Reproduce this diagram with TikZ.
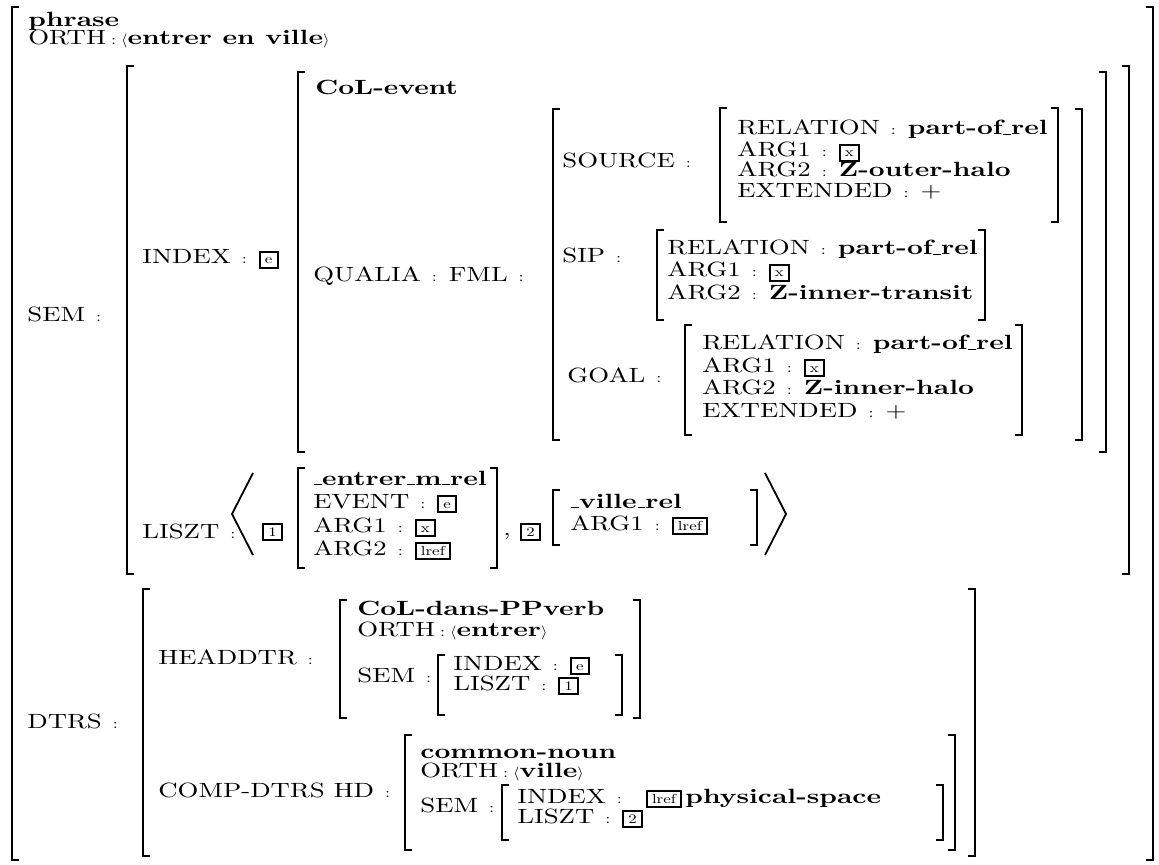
\documentclass[tikz,border=0pt]{standalone}
\usepackage{fontspec}
\setmainfont{lmroman10}[Extension=.otf, UprightFont=*-regular, BoldFont=*-bold,
  UprightFeatures={FakeStretch=1.3}, BoldFeatures={FakeStretch=1.34}]
\newcommand{\cl}{\hspace{5.5pt}{\scriptsize :}\hspace{6pt}}
\newcommand{\cls}{\hspace{2.5pt}{\scriptsize :}\hspace{2.5pt}}
\newcommand{\ang}[1]{$\scriptstyle\langle$#1$\scriptstyle\rangle$}
\newcommand{\us}{\kern.04em\rule{.36em}{0.6pt}\kern.02em}
\newcommand{\tg}[1]{{\setlength{\fboxsep}{0pt}\setlength{\fboxrule}{1pt}%
  \fbox{\rule[-1.6pt]{0pt}{7.2pt}\hspace{2pt}{\fontsize{6.5}{7}\selectfont #1}\hspace{2pt}}}}
% left x, right x, top y, bottom y
\newcommand{\avmbrk}[4]{%
  \draw[brk] ({#1+7},#3) -- (#1,#3) -- (#1,#4) -- ({#1+7},#4);
  \draw[brk] ({#2-7},#3) -- (#2,#3) -- (#2,#4) -- ({#2-7},#4);}
\begin{document}
\begin{tikzpicture}[x=0.5pt,y=-0.5pt,font=\fontsize{10.3}{11}\selectfont,
  brk/.style={line width=1.1pt},
  lbl/.style={anchor=base west,inner sep=0pt},
  typ/.style={lbl,font=\fontsize{10.3}{11}\selectfont\bfseries}]
\useasboundingbox (0,0) rectangle (1159,865);
% whole phrase
\avmbrk{12}{1153}{7}{860}
\node[typ] (phr) at (28,27) {phrase};
\node[lbl] (orth) at (28,45) {ORTH\cls\ang{\textbf{entrer en ville}}};
\node[lbl] (sem) at (27,322) {SEM\cl};
\node[lbl] (dtrs) at (27,728) {DTRS\cl};
% SEM
\avmbrk{127}{1129}{66}{574}
\node[lbl] (index) at (142,264) {INDEX\cl\tg{e}};
\avmbrk{298}{1106}{72}{452}
\node[typ] (colev) at (315,95) {CoL-event};
\node[lbl] (qualia) at (313,282) {QUALIA\cl FML\cl};
\avmbrk{553}{1082}{109}{440}
\node[lbl] (src) at (562,168) {SOURCE\cl};
\avmbrk{720}{1058}{108}{222}
\node[lbl] (srcrel) at (737,135) {RELATION\cl\textbf{part-of\us rel}};
\node[lbl] (srca1) at (737,157) {ARG1\cl\tg{x}};
\node[lbl] (srca2) at (737,177) {ARG2\cl\textbf{Z-outer-halo}};
\node[lbl] (srcext) at (737,198) {EXTENDED\cl +};
\node[lbl] (sip) at (562,263) {SIP\cl};
\avmbrk{657}{985}{230}{320}
\node[lbl] (siprel) at (667,255) {RELATION\cl\textbf{part-of\us rel}};
\node[lbl] (sipa1) at (667,277) {ARG1\cl\tg{x}};
\node[lbl] (sipa2) at (667,300) {ARG2\cl\textbf{Z-inner-transit}};
\node[lbl] (goal) at (567,382) {GOAL\cl};
\avmbrk{685}{1022}{325}{435}
\node[lbl] (goalrel) at (702,350) {RELATION\cl\textbf{part-of\us rel}};
\node[lbl] (goala1) at (702,372) {ARG1\cl\tg{x}};
\node[lbl] (goala2) at (702,394) {ARG2\cl\textbf{Z-inner-halo}};
\node[lbl] (goalext) at (702,417) {EXTENDED\cl +};
% LISZT
\node[lbl] (liszt) at (142,538) {LISZT\cl};
\draw[line width=0.9pt] (253,473) -- (232,514) -- (253,555);
\draw[line width=0.9pt] (765,473) -- (786,514) -- (765,555);
\node[lbl] (tagi) at (262,536) {\tg{1}};
\avmbrk{298}{497}{468}{568}
\node[typ] (entrer) at (313,485) {\us entrer\us m\us rel};
\node[lbl] (enev) at (313,508) {EVENT\cl\tg{e}};
\node[lbl] (ena1) at (313,532) {ARG1\cl\tg{x}};
\node[lbl] (ena2) at (313,555) {ARG2\cl\tg{lref}};
\node[lbl] (comma) at (503,535) {,};
\node[lbl] (tagii) at (520,536) {\tg{2}};
\avmbrk{553}{757}{490}{545}
\node[typ] (ville) at (570,508) {\us ville\us rel};
\node[lbl] (villea1) at (570,530) {ARG1\cl\tg{lref}};
% DTRS
\avmbrk{143}{975}{589}{856}
\node[lbl] (hd) at (158,664) {HEADDTR\cl};
\avmbrk{340}{640}{600}{718}
\node[typ] (coldans) at (357,615) {CoL-dans-PPverb};
\node[lbl] (hdorth) at (357,636) {ORTH\cls\ang{\textbf{entrer}}};
\node[lbl] (hdsem) at (357,682) {SEM\cl};
\avmbrk{438}{622}{655}{715}
\node[lbl] (hdidx) at (453,670) {INDEX\cl\tg{e}};
\node[lbl] (hdlis) at (453,690) {LISZT\cl\tg{1}};
\node[lbl] (comp) at (158,797) {COMP-DTRS HD\cl};
\avmbrk{405}{955}{735}{850}
\node[typ] (noun) at (420,758) {common-noun};
\node[lbl] (cporth) at (420,777) {ORTH\cls\ang{\textbf{ville}}};
\node[lbl] (cpsem) at (420,812) {SEM\cl};
\avmbrk{502}{943}{785}{840}
\node[lbl] (cpidx) at (517,803) {INDEX\cl\hspace{6pt}\tg{lref}\,\textbf{physical-space}};
\node[lbl] (cplis) at (517,823) {LISZT\cl\tg{2}};
\end{tikzpicture}
\end{document}
